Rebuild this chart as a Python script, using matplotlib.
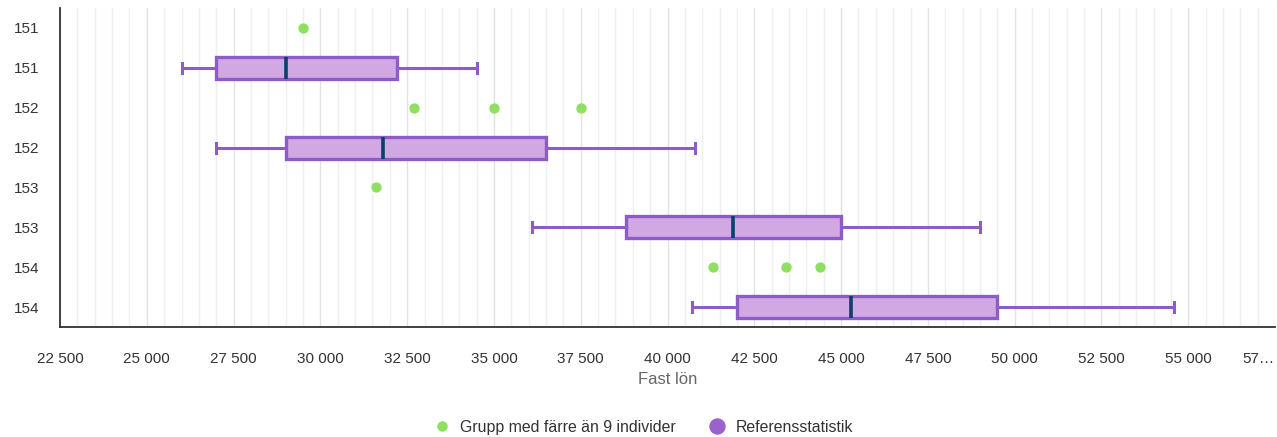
import matplotlib
matplotlib.use("Agg")
import matplotlib.pyplot as plt
from matplotlib.lines import Line2D
from matplotlib.ticker import FixedLocator, FuncFormatter

plt.rcParams['font.family'] = ['Liberation Sans', 'DejaVu Sans']

# Data
categories = ["151", "151", "152", "152", "153", "153", "154", "154"]
# small groups (green dots): row index -> values
small_rows = [0, 2, 4, 6]
small_values = [[29500], [32700, 35000, 37500], [31600], [41300, 43400, 44400]]
# box rows
box_rows = [1, 3, 5, 7]
whislo = [26000, 27000, 36100, 40700]
q1 = [27000, 29000, 38800, 42000]
med = [29000, 31800, 41900, 45300]
q3 = [32200, 36500, 45000, 49500]
whishi = [34500, 40800, 49000, 54600]

x_min, x_max = 22500, 57500
xticks = [22500, 25000, 27500, 30000, 32500, 35000, 37500, 40000, 42500,
          45000, 47500, 50000, 52500, 55000, 57500]

box_edge = "#8E5CC8"
box_fill = "#D2A8E2"
median_col = "#0B3F6E"
green = "#8EE061"
legend_purple = "#9B62CF"

fig = plt.figure(figsize=(12.77, 4.37), dpi=100)
ax = fig.add_axes([60/1277, 110/437, 1215/1277, 319/437])

# gridlines
for v in range(x_min, x_max + 1, 500):
    major = (v - x_min) % 2500 == 0
    ax.axvline(v, color="#e3e3e3" if major else "#efefef", lw=1.0, zorder=0)

stats = []
for i in range(len(box_rows)):
    stats.append(dict(whislo=whislo[i], q1=q1[i], med=med[i], q3=q3[i],
                      whishi=whishi[i], fliers=[]))
ax.bxp(stats, positions=box_rows, vert=False, widths=0.55, patch_artist=True,
       showfliers=False, capwidths=0.25,
       boxprops=dict(facecolor=box_fill, edgecolor=box_edge, linewidth=2.4),
       whiskerprops=dict(color=box_edge, linewidth=2.2),
       capprops=dict(color=box_edge, linewidth=2.2),
       medianprops=dict(color=median_col, linewidth=2.6, solid_capstyle='butt'),
       manage_ticks=False, zorder=3)

for r, vals in zip(small_rows, small_values):
    ax.scatter(vals, [r] * len(vals), s=55, color=green, zorder=4, linewidths=0)

ax.set_xlim(x_min, x_max)
ax.set_ylim(len(categories) - 0.5, -0.5)
ax.set_yticks(range(len(categories)))
ax.set_yticklabels(categories)
ax.xaxis.set_major_locator(FixedLocator(xticks))

def fmt(v, pos):
    v = int(round(v))
    if v == 57500:
        return "57…"
    return f"{v:,}".replace(",", " ")
ax.xaxis.set_major_formatter(FuncFormatter(fmt))

ax.tick_params(axis='both', length=0, labelsize=11, labelcolor="#333333")
ax.tick_params(axis='x', pad=18)
ax.tick_params(axis='y', pad=14.5)
for lab in ax.get_xticklabels():
    if lab.get_text() == "57…":
        lab.set_horizontalalignment("right")

for s in ["top", "right"]:
    ax.spines[s].set_visible(False)
ax.spines["left"].set_color("#333333")
ax.spines["bottom"].set_color("#333333")
ax.spines["left"].set_linewidth(1.3)
ax.spines["bottom"].set_linewidth(1.3)

ax.set_xlabel("Fast lön", fontsize=12, color="#666666", labelpad=4)

handles = [
    Line2D([], [], marker='o', linestyle='', markersize=6.5, color=green,
           label="Grupp med färre än 9 individer"),
    Line2D([], [], marker='o', linestyle='', markersize=10.8, color=legend_purple,
           label="Referensstatistik"),
]
fig.legend(handles=handles, loc="center", bbox_to_anchor=(0.501, 0.022),
           ncol=2, frameon=False, fontsize=11.4, handletextpad=0.15,
           columnspacing=1.6, labelcolor="#333333")

fig.savefig("out.png", dpi=100)
